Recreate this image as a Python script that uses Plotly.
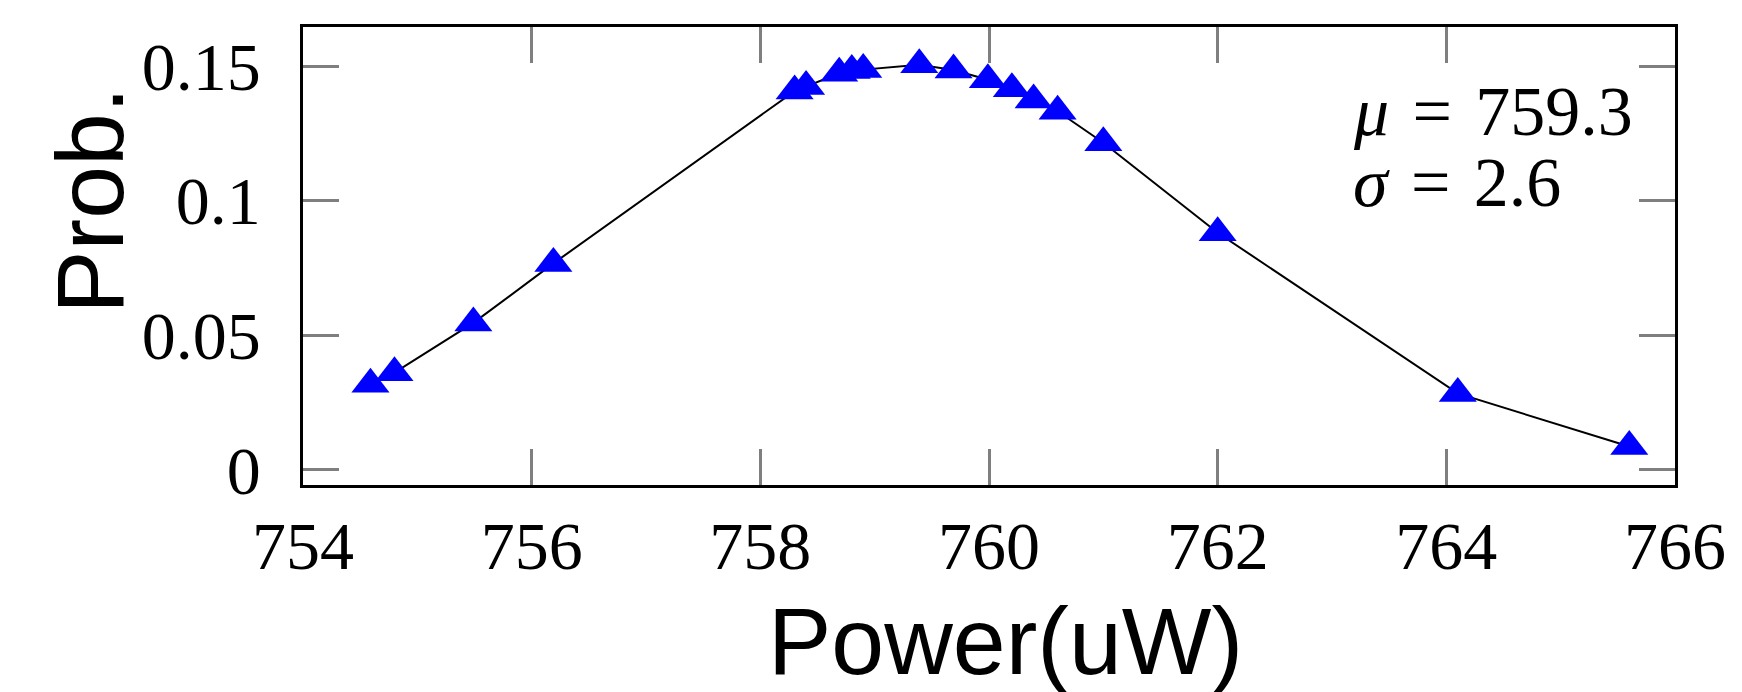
import plotly.graph_objects as go

# Data
power_uw = [754.59, 754.80, 755.49, 756.19, 758.30, 758.40, 758.69, 758.80, 758.90,
            759.39, 759.69, 759.99, 760.20, 760.39, 760.60, 761.00, 762.00, 764.10, 765.60]
prob = [0.0318, 0.0361, 0.0546, 0.0767, 0.1407, 0.1424, 0.1473, 0.1483, 0.1487,
        0.1505, 0.1485, 0.1449, 0.1416, 0.1374, 0.1332, 0.1215, 0.0881, 0.0284, 0.0087]

x_ticks = [754, 756, 758, 760, 762, 764, 766]
x_tick_labels = ["754", "756", "758", "760", "762", "764", "766"]
y_ticks = [0, 0.05, 0.1, 0.15]
y_tick_labels = ["0", "0.05", "0.1", "0.15"]

x_title = "Power(uW)"
y_title = "Prob."
stat_lines = ["<i>μ</i>\u2004=\u2004759.3", "<i>σ</i>\u2004=\u20042.6"]

fig = go.Figure()
fig.add_trace(go.Scatter(
    x=power_uw, y=prob, mode="lines+markers",
    line=dict(color="black", width=2),
    marker=dict(symbol="triangle-up", size=33, color="#0000ff", line=dict(width=0)),
    showlegend=False,
))

serif = "Liberation Serif"
axis_common = dict(
    showline=True, linecolor="black", linewidth=2.5, mirror="ticks",
    ticks="inside", ticklen=36, tickwidth=2.5, tickcolor="#7f7f7f",
    showgrid=False, zeroline=False, automargin=False,
    tickfont=dict(family=serif, size=68, color="black"),
)

fig.update_xaxes(range=[754, 766], tickvals=x_ticks, ticktext=x_tick_labels,
                 ticklabelstandoff=0, **axis_common)
fig.update_yaxes(range=[-0.0056, 0.1645], tickvals=y_ticks, ticktext=y_tick_labels,
                 ticklabelstandoff=26, **axis_common)

annotations = [
    dict(text=x_title, xref="paper", yref="paper", x=0.5117, y=-0.340,
         xanchor="center", yanchor="middle", showarrow=False, borderpad=0,
         font=dict(family="Liberation Sans", size=95, color="black")),
    dict(text=y_title, xref="paper", yref="paper", x=-0.155, y=0.6212,
         xanchor="center", yanchor="middle", showarrow=False, textangle=-90,
         font=dict(family="Liberation Sans", size=95, color="black")),
    dict(text=stat_lines[0], xref="paper", yref="paper", x=0.764, y=0.8151,
         xanchor="left", yanchor="middle", showarrow=False,
         font=dict(family=serif, size=70, color="black")),
    dict(text=stat_lines[1], xref="paper", yref="paper", x=0.764, y=0.6611,
         xanchor="left", yanchor="middle", showarrow=False,
         font=dict(family=serif, size=70, color="black")),
]

fig.update_layout(
    width=1742, height=692, autosize=False,
    margin=dict(l=295, r=75, t=19, b=215, pad=0),
    plot_bgcolor="white", paper_bgcolor="white",
    annotations=annotations,
)

fig.write_html("out.html")
